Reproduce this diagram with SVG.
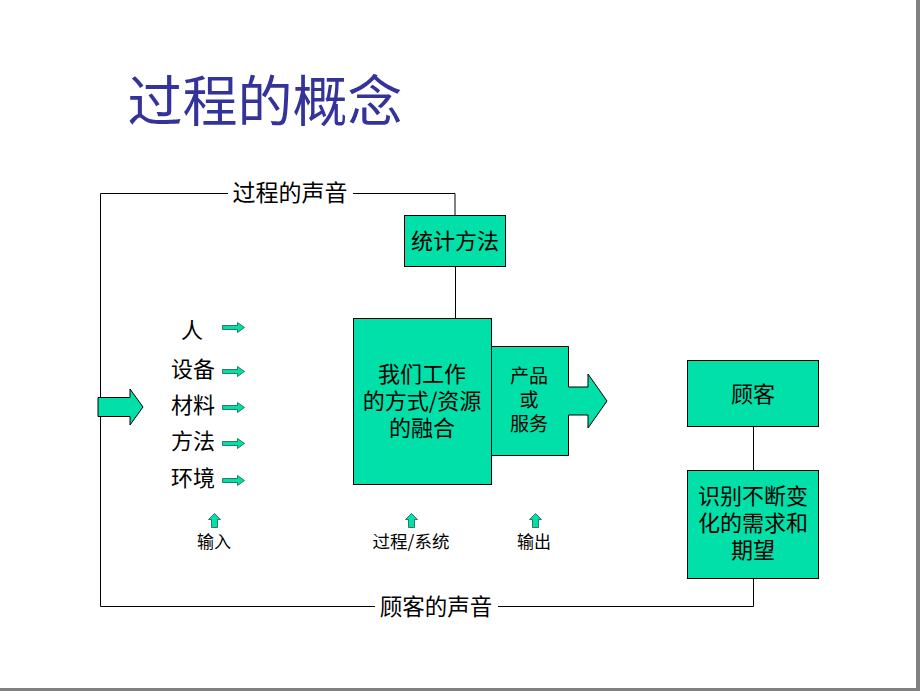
<svg xmlns="http://www.w3.org/2000/svg" width="920" height="691" viewBox="0 0 920 691">
<style>
.t{font-family:"Noto Sans CJK SC","Liberation Sans",sans-serif;fill:#000;text-anchor:middle}
.box{fill:#00E0A8;stroke:#000;stroke-width:1}
.ln{fill:none;stroke:#000;stroke-width:1}
.sa{fill:#00E0A8;stroke:#1a5c48;stroke-width:0.8}
</style>
<defs>
<path id="ra" d="M0,-2 H15 V-5 L22,0 L15,5 V2 H0 Z"/>
<path id="ua" d="M-3,14 V6 H-6 L0,0 L6,6 H3 V14 Z"/>
</defs>
<rect x="0" y="0" width="920" height="691" fill="#fff"/>
<rect x="916" y="0" width="4" height="691" fill="#808080"/>
<rect x="0" y="688" width="920" height="3" fill="#808080"/>
<text x="265" y="121" class="t" style="font-family:'Noto Sans CJK SC',serif;fill:#333399;font-size:55px">过程的概念</text>
<g id="connectors">
<polyline class="ln" points="455,215 455,193.5 100.5,193.5 100.5,606.5 753.5,606.5 753.5,578"/>
<line class="ln" x1="455.5" y1="266" x2="455.5" y2="318"/>
<line class="ln" x1="753.5" y1="426" x2="753.5" y2="470"/>
<rect x="228" y="180" width="125" height="26" fill="#fff"/>
<rect x="375" y="594" width="123" height="26" fill="#fff"/>
<text x="290" y="201" class="t" font-size="23">过程的声音</text>
<text x="436" y="615" class="t" font-size="22.5">顾客的声音</text>
</g>
<g id="stat"><rect class="box" x="404.5" y="215.5" width="101" height="51"/><text x="455" y="249" class="t" font-size="22">统计方法</text></g>
<g id="process"><rect class="box" x="353.5" y="318.5" width="138" height="166"/>
<text x="422" y="382" class="t" font-size="22">我们工作</text>
<text x="422" y="409" class="t" font-size="22">的方式/资源</text>
<text x="422" y="436" class="t" font-size="22">的融合</text></g>
<g id="output"><path class="box" d="M491.5,346.5 H568.5 V387 H588 V374 L607,401 L588,428 V415 H568.5 V455.5 H491.5 Z"/>
<text x="529" y="383" class="t" font-size="19">产品</text>
<text x="529" y="407" class="t" font-size="19">或</text>
<text x="529" y="431" class="t" font-size="19">服务</text></g>
<g id="bigarrow"><path class="box" d="M98,397.5 H130 V389 L143,407 L130,425 V416.5 H98 Z"/></g>
<g id="inputs">
<text x="192" y="338" class="t" font-size="22">人</text>
<text x="193" y="377" class="t" font-size="22">设备</text>
<text x="193" y="413" class="t" font-size="22">材料</text>
<text x="193" y="449" class="t" font-size="22">方法</text>
<text x="193" y="486" class="t" font-size="22">环境</text>
<use href="#ra" class="sa" x="222.5" y="327.5"/>
<use href="#ra" class="sa" x="222.5" y="371.5"/>
<use href="#ra" class="sa" x="222.5" y="407.5"/>
<use href="#ra" class="sa" x="222.5" y="443.5"/>
<use href="#ra" class="sa" x="222.5" y="480.5"/>
</g>
<g id="labels">
<use href="#ua" class="sa" x="214.5" y="513.5"/>
<use href="#ua" class="sa" x="411.5" y="513.5"/>
<use href="#ua" class="sa" x="535.5" y="513.5"/>
<text x="214" y="548" class="t" font-size="17">输入</text>
<text x="411" y="548" class="t" font-size="17.5">过程/系统</text>
<text x="534" y="548" class="t" font-size="17">输出</text>
</g>
<g id="customer"><rect class="box" x="687.5" y="360.5" width="131" height="66"/><text x="753" y="402" class="t" font-size="22">顾客</text></g>
<g id="needs"><rect class="box" x="687.5" y="470.5" width="131" height="108"/>
<text x="753" y="504" class="t" font-size="22">识别不断变</text>
<text x="753" y="531" class="t" font-size="22">化的需求和</text>
<text x="753" y="558" class="t" font-size="22">期望</text></g>
</svg>
